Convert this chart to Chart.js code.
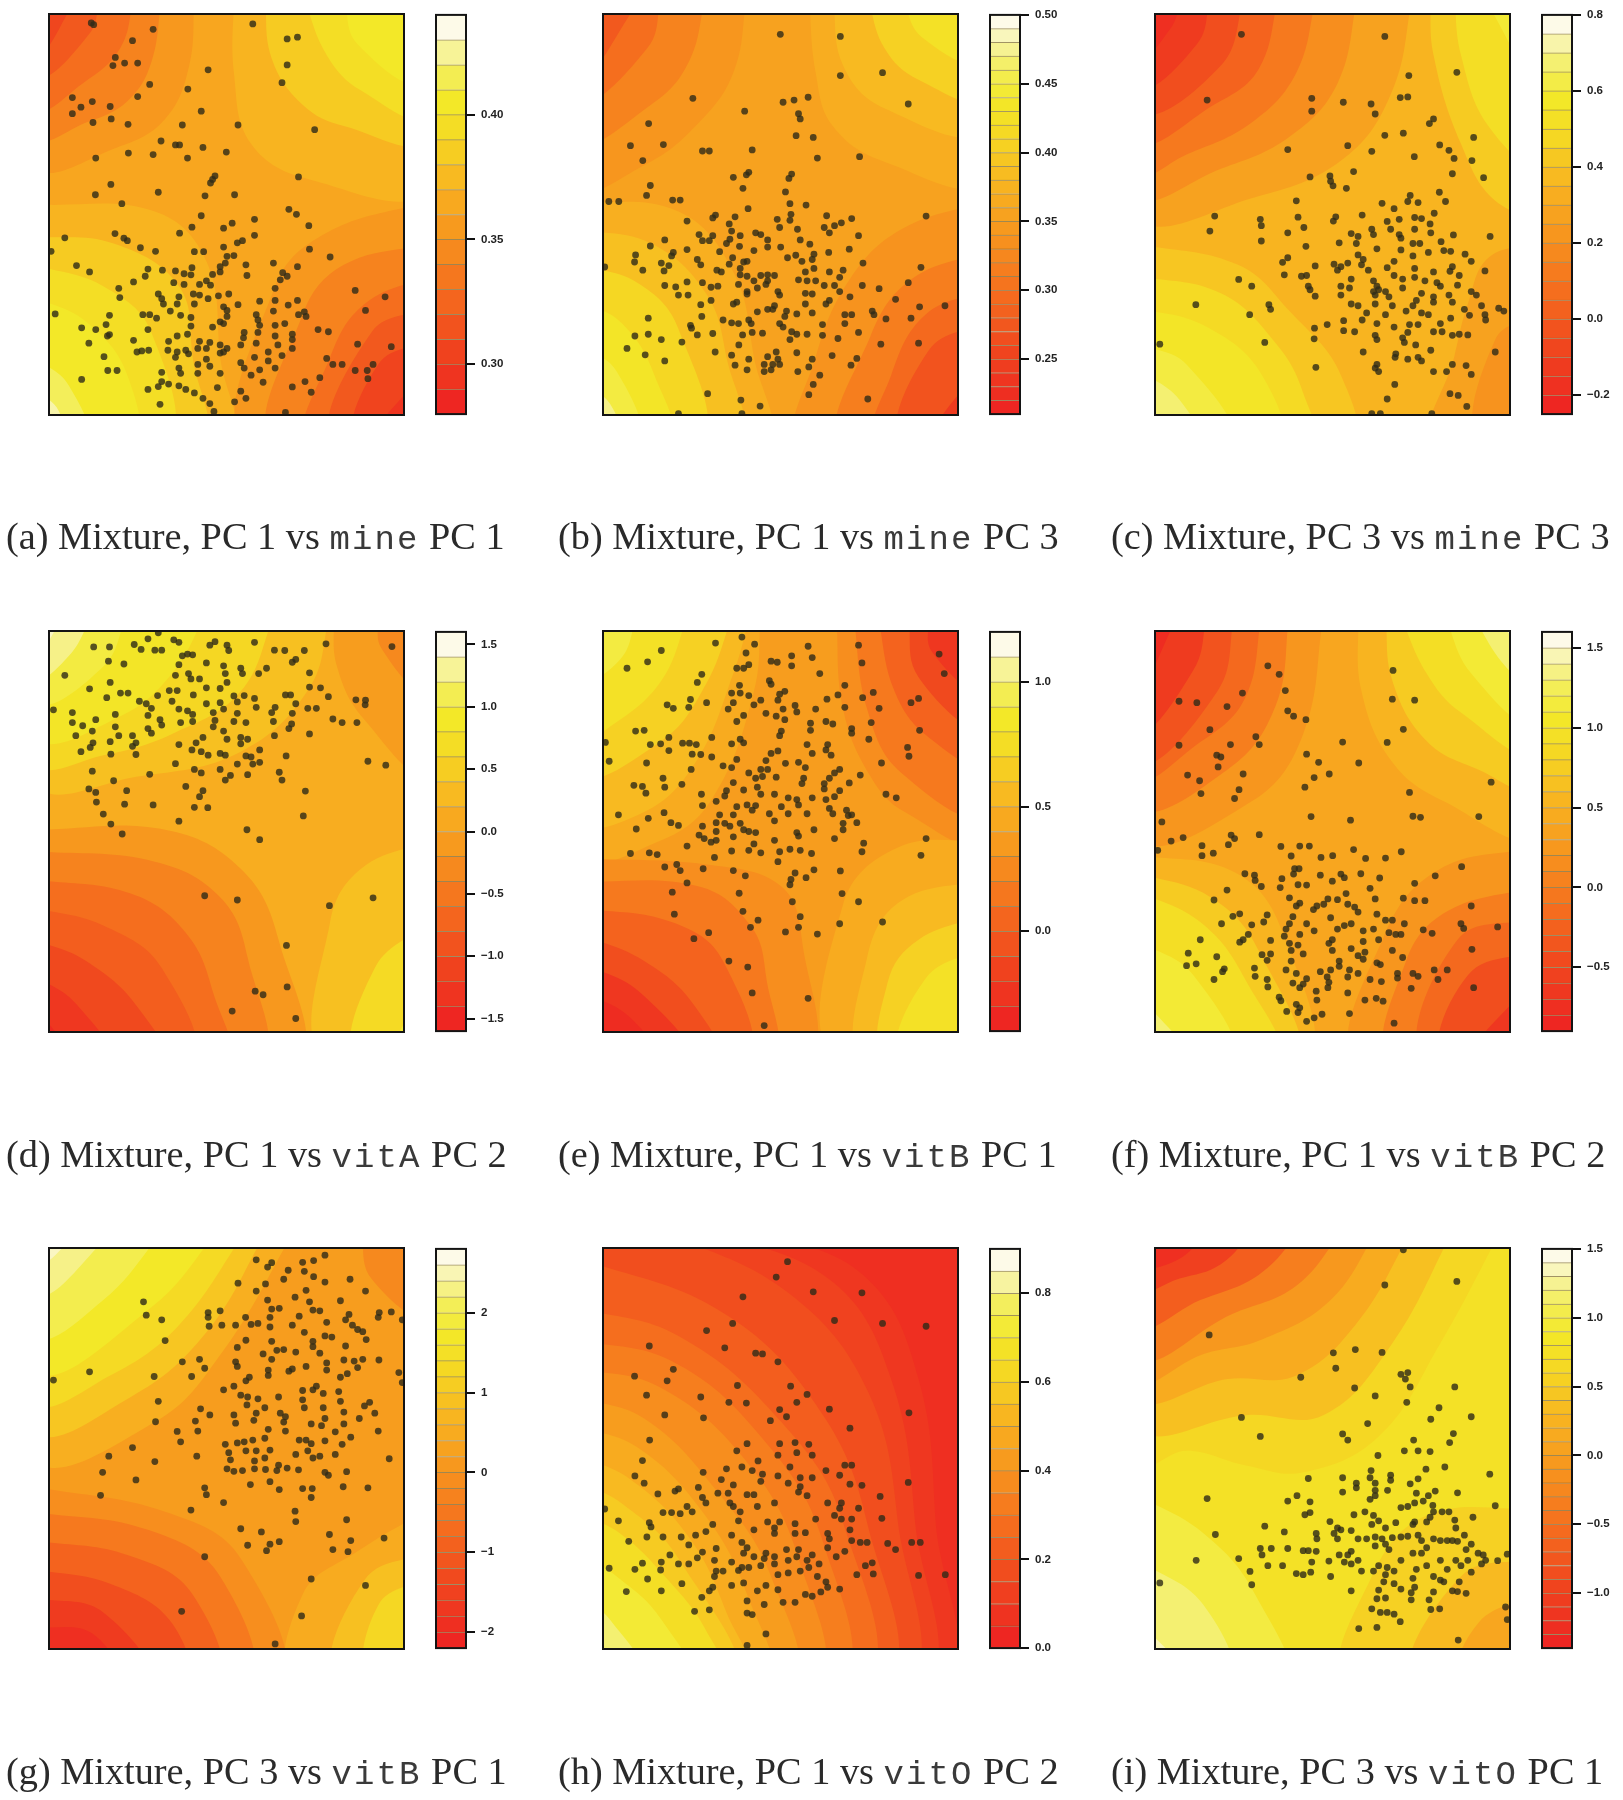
<!DOCTYPE html>
<html>
<head>
<meta charset="utf-8">
<script src="https://cdn.jsdelivr.net/npm/chart.js@4"></script>
<style>
body { margin: 0; background: #fff; width: 1623px; height: 1800px; position: relative; overflow: hidden; }
canvas { position: absolute; filter: blur(0.6px); }
.cap { position: absolute; white-space: nowrap; font: 38.3px "Liberation Serif", serif; color: #2a2a2a; line-height: 40px; filter: blur(0.4px); }
.cap tt { font: 34px "Liberation Mono", monospace; letter-spacing: 2.1px; color: #3a3a3a; }
</style>
</head>
<body>
<script>
//============================== DATA ===========================
// contours: [level %, x,y, x,y, ...], last pair is the far corner
const contoursA = [
 [52, 0,-100, 1400,-100, 1400,1300, 0,1300],
 [58, 680,-20, 680,200, 730,400, 900,500, 1250,525, 1400,-100],
 [66, 770,-20, 790,160, 880,290, 1000,350, 1250,385, 1400,-100],
 [74, 880,-20, 950,150, 1050,250, 1250,320, 1400,-100],
 [80, 1000,-20, 1040,120, 1250,230, 1400,-100],
 [86, 1130,-20, 1250,100, 1400,-100],
 [46, 565,-20, 550,180, 480,330, 340,410, 100,460, 0,-100],
 [38, 470,-20, 440,170, 370,280, 250,340, 100,380, 0,-100],
 [30, 390,-20, 350,130, 240,230, 100,300, 0,-100],
 [22, 290,-20, 260,90, 100,210, 0,-100],
 [15, 230,-20, 100,150, 0,-100],
 [8, 170,-20, 100,80, 0,-100],
 [58, 100,570, 450,590, 600,730, 640,1000, 660,1250, 0,1300],
 [66, 100,660, 330,680, 520,800, 560,1000, 580,1250, 0,1300],
 [74, 100,740, 300,800, 440,930, 480,1250, 0,1300],
 [80, 100,830, 250,900, 370,1050, 380,1250, 0,1300],
 [88, 100,1000, 200,1080, 250,1250, 0,1300],
 [95, 100,1090, 170,1150, 180,1250, 0,1300],
 [46, 1250,560, 950,650, 800,800, 720,1250, 1400,1300],
 [38, 1250,680, 1000,740, 880,880, 800,1250, 1400,1300],
 [30, 1250,770, 1060,850, 960,1000, 900,1250, 1400,1300],
 [22, 1250,860, 1080,930, 970,1250, 1400,1300],
 [14, 1250,950, 1100,1020, 1040,1250, 1400,1300],
 [7, 1250,1020, 1090,1250, 1400,1300],
 [2, 1250,1090, 1130,1250, 1400,1300]
];
const contoursB = [
 [50, 0,-100, 1400,-100, 1400,1300, 0,1300],
 [55, 780,-20, 800,200, 850,350, 1000,450, 1300,500, 1400,-100],
 [60, 850,-20, 880,180, 1000,300, 1300,360, 1400,-100],
 [68, 950,-20, 1000,130, 1100,220, 1300,270, 1400,-100],
 [76, 1050,-20, 1110,100, 1300,170, 1400,-100],
 [82, 1150,-20, 1300,80, 1400,-100],
 [88, 1190,-20, 1300,50, 1400,-100],
 [45, 600,-20, 560,200, 450,350, 300,460, 100,520, 0,-100],
 [38, 480,-20, 430,170, 320,290, 100,390, 0,-100],
 [30, 350,-20, 310,130, 100,280, 0,-100],
 [22, 300,-20, 100,220, 0,-100],
 [14, 220,-20, 100,120, 0,-100],
 [56, 100,560, 400,590, 560,760, 620,1000, 650,1250, 0,1300],
 [62, 100,640, 320,680, 480,820, 540,1000, 570,1250, 0,1300],
 [70, 100,740, 280,790, 400,920, 460,1250, 0,1300],
 [78, 100,840, 230,900, 330,1050, 370,1250, 0,1300],
 [84, 100,960, 220,1040, 280,1250, 0,1300],
 [92, 100,1070, 200,1130, 220,1250, 0,1300],
 [98, 100,1120, 210,1250, 0,1300],
 [44, 1300,560, 1050,640, 900,780, 800,1000, 760,1250, 1400,1300],
 [36, 1300,700, 1080,780, 960,940, 880,1250, 1400,1300],
 [28, 1300,810, 1120,880, 1020,1050, 980,1250, 1400,1300],
 [20, 1300,900, 1130,980, 1050,1250, 1400,1300],
 [10, 1300,1000, 1140,1250, 1400,1300],
 [4, 1300,1080, 1180,1250, 1400,1300]
];
const contoursC = [
 [58, 0,-100, 1400,-100, 1400,1300, 0,1300],
 [50, 960,-20, 900,250, 760,440, 500,550, 150,600, 0,-100],
 [42, 800,-20, 740,230, 600,380, 400,470, 150,540, 0,-100],
 [34, 680,-20, 620,200, 490,340, 300,430, 150,480, 0,-100],
 [26, 570,-20, 510,190, 380,290, 150,390, 0,-100],
 [18, 470,-20, 400,180, 150,310, 0,-100],
 [10, 370,-20, 330,120, 150,240, 0,-100],
 [4, 290,-20, 250,80, 150,160, 0,-100],
 [66, 1010,-20, 1020,150, 1100,400, 1200,560, 1320,580, 1400,-100],
 [74, 1080,-20, 1100,150, 1180,350, 1320,450, 1400,-100],
 [82, 1160,-20, 1320,200, 1400,-100],
 [90, 1225,-20, 1320,60, 1400,-100],
 [64, 150,680, 450,740, 600,870, 750,1050, 770,1250, 0,1300],
 [72, 150,770, 400,820, 560,960, 640,1100, 660,1250, 0,1300],
 [78, 150,860, 350,910, 520,1050, 560,1250, 0,1300],
 [84, 150,960, 300,1020, 430,1250, 0,1300],
 [90, 150,1030, 280,1120, 330,1250, 0,1300],
 [96, 150,1100, 270,1250, 0,1300],
 [50, 1320,680, 1180,720, 1120,850, 1080,1000, 1020,1250, 1400,1300],
 [44, 1320,880, 1200,950, 1150,1250, 1400,1300],
 [36, 1320,1030, 1215,1250, 1400,1300]
];
const contoursD = [
 [55, 0,-100, 1400,-100, 1400,1300, 0,1300],
 [62, 960,-20, 900,190, 700,370, 400,440, 100,460, 0,-100],
 [70, 800,-20, 700,200, 500,320, 300,380, 100,400, 0,-100],
 [78, 600,-20, 500,150, 350,270, 100,330, 0,-100],
 [84, 370,-20, 300,130, 100,230, 0,-100],
 [92, 270,-20, 200,100, 100,160, 0,-100],
 [97, 190,-20, 100,90, 0,-100],
 [48, 970,-20, 980,130, 1060,280, 1250,430, 1400,-100],
 [40, 1100,-20, 1110,80, 1250,200, 1400,-100],
 [46, 100,590, 480,590, 700,700, 810,900, 850,1250, 0,1300],
 [38, 100,650, 450,680, 640,780, 720,950, 745,1250, 0,1300],
 [30, 100,730, 380,770, 540,880, 620,1050, 650,1250, 0,1300],
 [24, 100,810, 300,860, 470,980, 550,1250, 0,1300],
 [16, 100,900, 250,960, 400,1090, 470,1250, 0,1300],
 [8, 100,1000, 220,1080, 320,1250, 0,1300],
 [2, 100,1080, 200,1250, 0,1300],
 [62, 1250,620, 1050,700, 960,850, 945,1250, 1400,1300],
 [72, 1250,850, 1090,980, 1040,1250, 1400,1300],
 [82, 1250,1000, 1150,1250, 1400,1300]
];
const contoursE = [
 [48, 0,-100, 1400,-100, 1400,1300, 0,1300],
 [54, 640,-20, 620,200, 500,500, 350,620, 100,660, 0,-100],
 [60, 610,-20, 560,150, 450,400, 300,540, 100,560, 0,-100],
 [68, 560,-20, 480,180, 350,340, 100,430, 0,-100],
 [76, 430,-20, 350,170, 200,300, 100,340, 0,-100],
 [84, 280,-20, 230,110, 100,170, 0,-100],
 [92, 220,-20, 100,90, 0,-100],
 [42, 860,-20, 880,250, 960,440, 1060,540, 1300,620, 1400,-100],
 [34, 910,-20, 950,250, 1050,430, 1300,540, 1400,-100],
 [26, 980,-20, 1030,200, 1130,330, 1300,400, 1400,-100],
 [16, 1070,-20, 1100,160, 1300,300, 1400,-100],
 [8, 1130,-20, 1140,90, 1300,200, 1400,-100],
 [42, 100,670, 500,690, 700,750, 760,900, 760,1250, 0,1300],
 [34, 100,735, 460,750, 610,860, 655,1000, 660,1250, 0,1300],
 [26, 100,810, 380,850, 530,960, 590,1250, 0,1300],
 [18, 100,880, 300,960, 450,1090, 510,1250, 0,1300],
 [8, 100,960, 290,1050, 430,1250, 0,1300],
 [3, 100,1040, 260,1120, 330,1250, 0,1300],
 [54, 1300,620, 1040,640, 880,800, 860,1250, 1400,1300],
 [60, 1300,730, 1050,790, 950,950, 945,1250, 1400,1300],
 [68, 1300,830, 1100,900, 1010,1020, 1010,1250, 1400,1300],
 [76, 1300,920, 1120,1010, 1050,1250, 1400,1300],
 [84, 1300,1060, 1170,1250, 1400,1300]
];
const contoursF = [
 [52, 0,-100, 1400,-100, 1400,1300, 0,1300],
 [45, 700,-20, 640,320, 490,510, 150,610, 0,-100],
 [36, 600,-20, 560,240, 420,420, 150,520, 0,-100],
 [28, 520,-20, 470,220, 330,350, 150,440, 0,-100],
 [20, 440,-20, 390,200, 150,400, 0,-100],
 [10, 360,-20, 320,140, 150,310, 0,-100],
 [3, 280,-20, 150,180, 0,-100],
 [58, 800,-20, 810,200, 900,400, 1050,510, 1320,600, 1400,-100],
 [66, 880,-20, 900,170, 1000,340, 1150,420, 1320,470, 1400,-100],
 [74, 920,-20, 1000,150, 1100,260, 1320,370, 1400,-100],
 [82, 1050,-20, 1130,150, 1320,290, 1400,-100],
 [90, 1130,-20, 1230,130, 1320,190, 1400,-100],
 [96, 1190,-20, 1320,100, 1400,-100],
 [58, 150,660, 440,710, 580,880, 640,1250, 0,1300],
 [66, 150,710, 370,780, 510,930, 610,1250, 0,1300],
 [74, 150,760, 340,850, 470,1010, 560,1250, 0,1300],
 [82, 150,900, 320,1000, 430,1250, 0,1300],
 [90, 150,1040, 300,1250, 0,1300],
 [45, 1320,640, 1040,700, 880,880, 800,1250, 1400,1300],
 [36, 1320,750, 1060,820, 940,960, 900,1250, 1400,1300],
 [28, 1320,840, 1090,900, 990,1250, 1400,1300],
 [18, 1320,930, 1120,1000, 1050,1250, 1400,1300],
 [8, 1320,1000, 1130,1250, 1400,1300],
 [3, 1320,1080, 1180,1250, 1400,1300]
];
const contoursG = [
 [48, 0,-100, 1400,-100, 1400,1300, 0,1300],
 [56, 860,-20, 650,320, 450,520, 100,620, 0,-100],
 [64, 780,-20, 600,270, 380,450, 100,540, 0,-100],
 [72, 720,-20, 520,250, 320,390, 100,460, 0,-100],
 [80, 640,-20, 440,200, 100,380, 0,-100],
 [86, 480,-20, 300,180, 100,280, 0,-100],
 [92, 340,-20, 100,170, 0,-100],
 [97, 240,-20, 100,80, 0,-100],
 [40, 1050,-20, 1080,120, 1250,220, 1400,-100],
 [34, 1130,-20, 1250,80, 1400,-100],
 [42, 100,700, 480,770, 700,900, 800,1250, 0,1300],
 [34, 100,770, 430,820, 640,950, 710,1250, 0,1300],
 [26, 100,850, 370,890, 560,1000, 620,1250, 0,1300],
 [18, 100,930, 320,970, 500,1080, 530,1250, 0,1300],
 [10, 100,1010, 300,1050, 430,1250, 0,1300],
 [4, 100,1090, 270,1110, 340,1250, 0,1300],
 [54, 1250,760, 1040,880, 880,1000, 860,1250, 1400,1300],
 [62, 1250,880, 1060,960, 980,1250, 1400,1300],
 [70, 1250,950, 1100,1030, 1080,1250, 1400,1300],
 [76, 1250,1040, 1160,1250, 1400,1300]
];
const contoursH = [
 [4, 0,-100, 1400,-100, 1400,1300, 0,1300],
 [8, 640,-20, 950,120, 1100,400, 1150,800, 1160,1250, 0,1300, 0,-100],
 [13, 480,-20, 850,130, 1020,400, 1090,800, 1100,1250, 0,1300, 0,-100],
 [18, 340,-20, 720,160, 950,430, 1040,800, 1050,1250, 0,1300, 0,-100],
 [24, 100,60, 520,210, 800,470, 950,800, 990,1250, 0,1300],
 [30, 100,200, 400,280, 700,520, 880,800, 930,1250, 0,1300],
 [36, 100,290, 380,350, 640,560, 820,850, 860,1250, 0,1300],
 [42, 100,370, 340,420, 590,620, 750,900, 790,1250, 0,1300],
 [48, 100,450, 300,510, 510,710, 670,950, 720,1250, 0,1300],
 [54, 100,530, 280,590, 470,770, 600,1000, 650,1250, 0,1300],
 [60, 100,610, 260,680, 430,840, 540,1050, 600,1250, 0,1300],
 [66, 100,680, 240,750, 400,900, 560,1250, 0,1300],
 [74, 100,770, 230,830, 370,960, 480,1100, 530,1250, 0,1300],
 [82, 100,880, 220,950, 350,1070, 430,1250, 0,1300],
 [90, 100,1000, 200,1070, 300,1250, 0,1300],
 [96, 100,1090, 230,1250, 0,1300]
];
const contoursI = [
 [76, 0,-100, 1400,-100, 1400,1300, 0,1300],
 [70, 1220,-20, 1040,300, 860,560, 640,660, 470,640, 300,600, 150,640, 0,-100],
 [62, 1080,-20, 900,300, 700,500, 480,500, 150,530, 0,-100],
 [54, 960,-20, 800,240, 620,390, 420,400, 150,450, 0,-100],
 [46, 860,-20, 720,180, 520,290, 350,330, 150,400, 0,-100],
 [36, 760,-20, 620,140, 430,220, 150,340, 0,-100],
 [24, 640,-20, 510,110, 340,180, 150,250, 0,-100],
 [12, 500,-20, 400,80, 280,120, 150,150, 0,-100],
 [4, 370,-20, 270,70, 150,80, 0,-100],
 [68, 1320,760, 1000,780, 840,950, 770,1250, 1400,1300],
 [60, 1320,900, 1100,950, 960,1250, 1400,1300],
 [52, 1320,1000, 1150,1080, 1100,1250, 1400,1300],
 [44, 1320,1090, 1190,1250, 1400,1300],
 [84, 150,720, 350,830, 500,1000, 580,1250, 0,1300],
 [90, 150,900, 350,1030, 420,1250, 0,1300],
 [96, 150,1060, 300,1250, 0,1300]
];

// scatter marks as x,y pairs in the same reading units
const pointsA = [265,60,272,65,445,78,735,63,835,105,865,100,385,110,335,157,328,180,362,173,400,173,835,178,605,192,820,228,435,233,546,246,400,267,210,270,268,281,235,297,320,295,210,315,323,330,585,308,270,340,372,345,530,347,692,347,915,360,468,392,510,403,522,403,590,410,658,423,373,426,445,430,278,440,545,440,625,490,618,500,612,510,868,493,322,514,460,536,277,543,596,546,682,543,354,568,840,584,862,598,585,602,740,612,675,623,650,637,558,634,898,630,334,652,522,651,360,665,370,672,188,664,740,657,705,672,690,678,650,690,408,692,900,696,452,702,148,702,565,703,592,703,680,714,660,716,960,718,222,742,795,735,715,740,865,745,655,735,640,745,718,770,260,760,430,752,472,755,510,757,558,748,535,765,555,768,640,760,618,767,822,762,835,772,815,782,600,785,422,772,388,788,505,790,535,795,580,795,612,797,345,806,800,806,1033,812,1120,830,348,832,460,822,470,835,475,850,520,830,562,822,580,825,605,835,635,827,665,822,515,850,565,850,755,842,692,852,650,858,800,840,838,853,865,840,795,870,660,868,1063,868,885,872,868,880,890,885,160,878,318,882,415,880,435,880,455,890,495,870,525,882,555,888,660,885,640,900,745,880,750,895,755,910,800,910,828,905,925,922,955,928,237,917,278,922,308,908,430,922,555,912,618,915,650,905,710,930,750,930,800,940,850,935,312,940,318,936,515,940,545,935,708,945,745,960,850,950,388,952,490,955,258,960,580,955,610,958,640,965,700,965,808,965,1040,963,1138,970,398,985,412,982,432,980,488,980,515,985,540,980,575,975,650,985,640,988,660,975,600,975,780,985,850,975,820,995,302,998,510,1000,548,990,600,1005,950,1003,700,1015,740,1000,780,1010,968,1020,995,1020,1085,1020,520,1030,575,1020,610,1025,710,1030,755,1035,800,1030,1033,1037,1068,1037,313,1037,340,1037,525,1045,575,1045,640,1045,470,1042,730,1050,765,1070,930,1057,1070,1060,237,1062,470,1068,490,1075,460,1082,887,1068,430,1090,520,1080,540,1090,632,1085,850,1083,565,1100,700,1095,905,1098,590,1115,715,1115,610,1130,682,1125,465,1132,622,1152,830,1155];
const pointsB = [697,92,872,98,995,200,872,208,442,272,705,283,737,277,778,269,1070,288,593,308,750,315,755,330,313,343,743,377,793,382,260,405,356,402,470,420,490,420,615,417,805,440,928,436,296,447,730,485,722,497,605,480,598,487,560,494,588,525,318,517,712,535,307,545,197,562,226,562,383,558,405,558,725,568,772,572,603,582,508,600,500,608,565,605,728,598,725,615,832,602,1122,603,425,617,688,612,905,610,875,622,855,630,695,635,825,635,840,650,548,625,555,645,747,640,625,650,640,655,460,655,500,658,470,672,490,672,360,670,580,658,550,668,755,670,925,658,660,670,540,680,318,687,425,697,620,700,578,688,698,690,783,682,660,690,898,696,520,703,385,705,380,715,838,705,275,712,272,732,455,725,558,720,795,710,790,725,742,713,718,720,600,730,590,732,465,740,548,738,760,730,350,735,372,742,358,757,938,735,185,746,296,755,512,755,525,760,580,750,1107,747,795,750,880,755,770,760,840,760,580,768,600,772,640,770,660,768,680,770,870,775,750,782,775,785,800,785,425,788,470,790,620,785,660,785,575,795,655,795,1070,790,360,798,392,802,495,803,515,800,825,798,855,798,936,798,985,807,400,825,428,825,600,815,630,805,690,815,695,825,770,820,790,822,870,815,900,830,1033,837,495,840,570,845,600,822,840,840,830,850,465,852,560,850,680,855,675,865,770,850,1103,858,1177,855,660,865,630,872,715,870,745,878,965,870,970,880,468,885,312,890,530,895,605,895,710,885,790,875,885,880,905,880,1005,892,1078,890,555,903,575,905,612,905,885,905,820,908,435,910,695,905,705,915,438,918,730,928,615,930,645,932,745,935,775,935,820,938,925,930,455,937,500,933,587,937,312,935,273,940,350,950,410,957,725,950,865,947,576,965,250,975,990,963,1100,960,507,985,745,987,555,994,848,995,303,993,685,985,660,998,690,1005,605,1005,790,1005,920,1003,360,1010,650,1020,675,1020,695,1020,565,1022,780,1027,903,1022,600,1035,650,1040,670,1035,748,1040,812,1050,793,1076,485,1102,780,1105,582,1120,952,1117,638,1137,585,1158,400,1158];
const pointsC = [460,92,878,98,948,208,1088,199,360,277,665,272,665,308,757,283,838,288,850,316,923,270,945,268,1020,330,1008,343,878,376,932,370,1137,382,595,416,770,405,1038,403,1065,418,840,421,1080,441,964,436,1132,447,660,493,718,490,720,505,727,518,787,478,766,525,1075,484,1166,495,1037,536,952,545,945,562,975,565,1055,562,620,560,870,567,905,582,382,603,625,606,515,612,518,630,812,600,735,605,728,617,1022,595,965,607,985,610,920,612,885,618,642,635,368,645,595,650,840,640,845,655,780,652,800,660,895,640,1010,625,1012,650,965,640,920,655,518,673,1078,656,1185,660,648,688,745,678,795,680,925,665,1042,675,960,680,980,680,855,695,925,698,1050,700,1070,702,800,712,815,725,960,715,1005,705,1112,710,595,720,580,733,730,738,750,745,770,735,675,743,810,740,905,730,965,750,1130,730,1075,745,740,755,885,748,1170,757,1020,760,1068,758,830,755,585,768,635,772,650,770,905,770,1095,770,965,775,452,781,490,800,655,800,780,780,845,785,930,780,995,785,1030,790,1040,800,1090,797,855,800,860,810,845,815,850,825,880,815,750,800,775,805,930,805,660,810,985,820,1130,815,1145,825,675,828,750,825,890,830,1020,830,1065,825,970,840,850,850,780,850,800,855,900,855,1075,845,327,852,540,852,545,865,960,855,1020,845,1160,855,985,875,1005,880,825,875,880,880,940,870,1110,865,1125,882,1210,862,1225,870,484,880,812,895,1070,890,1170,880,1172,895,758,897,710,908,855,905,950,908,975,908,1040,905,905,915,673,918,758,925,790,928,1020,928,1045,928,945,930,1075,938,1095,935,1120,937,850,938,855,950,672,948,930,945,935,958,528,958,968,965,222,963,1200,985,815,985,1012,980,910,990,908,1000,975,1000,985,1010,945,1005,855,1020,1075,1020,1115,1023,677,1028,850,1030,860,1040,1020,1040,1058,1040,1130,1048,907,1076,1068,1102,1092,1107,885,1117,1117,1138,840,1158,865,1158,1015,1158];
const pointsD = [460,35,430,52,505,55,520,62,272,75,318,75,390,68,410,82,450,84,470,84,625,60,610,70,660,70,665,85,740,62,798,84,828,85,885,85,948,66,1140,74,545,95,560,97,530,100,520,125,315,115,360,123,600,120,650,128,700,135,775,135,860,110,850,118,188,155,510,155,548,150,555,165,580,165,655,150,752,150,900,148,705,150,320,175,660,175,600,190,260,193,900,188,932,190,492,198,515,198,350,205,372,205,458,212,310,218,562,210,640,192,845,210,955,215,680,213,710,212,740,220,1035,224,1063,225,1062,238,405,228,425,235,500,228,600,235,640,232,690,230,830,210,860,235,155,252,210,260,440,248,520,250,545,255,650,250,745,245,800,245,895,248,920,248,335,265,430,268,560,265,620,260,690,262,790,260,850,262,968,278,278,280,210,288,240,297,465,280,470,295,525,288,560,285,625,282,680,285,715,288,795,285,848,292,995,288,1038,288,335,300,430,305,440,318,620,300,650,312,840,305,268,312,220,325,345,325,385,325,590,330,700,330,720,335,900,320,798,325,320,342,270,345,395,345,660,335,700,348,262,358,520,350,570,345,385,355,235,370,395,378,558,365,585,370,605,380,640,375,655,380,755,365,322,377,715,382,730,385,832,382,1070,397,510,404,690,405,735,405,755,400,1122,408,640,420,268,425,565,420,585,430,812,428,720,435,435,434,670,437,655,450,820,450,330,452,540,468,258,475,278,485,368,480,590,480,888,481,580,497,280,512,362,518,445,520,565,527,604,528,300,546,882,551,520,566,322,574,718,590,355,602,755,618,595,776,690,788,1085,782,958,804,833,916,835,1033,742,1045,765,1055,675,1101,860,1122];
const pointsE = [585,47,508,64,622,67,350,85,778,73,925,70,597,92,730,100,790,105,310,117,670,115,688,118,935,120,1160,95,250,135,605,125,570,135,590,135,730,128,1175,150,468,152,812,150,455,175,665,170,670,180,885,183,578,183,555,205,580,205,605,212,710,200,695,208,968,203,1100,220,865,210,937,218,435,223,833,222,690,225,640,225,620,238,482,232,1078,232,367,238,385,248,430,245,560,232,545,250,740,240,885,245,985,248,705,250,745,258,800,250,590,268,655,262,685,270,570,285,830,285,850,292,785,290,962,288,710,280,905,305,905,318,275,312,300,310,785,310,700,312,1103,310,955,335,695,325,497,330,580,335,372,330,318,350,348,348,412,346,432,346,452,350,555,348,590,345,187,344,775,350,835,350,1068,358,372,367,830,365,845,380,690,368,670,375,440,377,465,378,497,385,790,375,655,395,570,392,1072,383,198,397,307,402,712,403,750,400,992,402,530,410,555,415,770,415,640,420,660,420,437,420,870,420,855,430,605,430,645,440,625,445,930,436,765,445,685,442,355,445,840,445,825,460,560,457,898,458,410,462,270,465,295,468,360,470,760,460,630,470,540,480,590,478,825,475,870,480,305,487,467,490,680,490,1005,490,1035,500,640,490,535,495,855,497,720,500,745,505,790,500,830,505,510,510,470,522,570,525,600,520,625,522,700,525,750,520,840,530,890,535,895,550,358,542,225,548,775,545,665,545,615,535,720,545,312,558,560,548,520,548,850,545,680,565,905,548,378,570,400,578,510,570,535,572,550,580,580,572,920,570,880,572,277,588,470,580,795,590,880,590,605,595,625,598,510,595,745,598,460,605,560,610,750,608,475,615,495,625,510,620,680,620,855,615,1122,615,590,590,425,636,620,630,940,628,725,645,755,648,605,648,555,650,640,655,695,652,260,657,315,655,338,660,788,657,935,652,1107,662,505,668,690,680,395,688,360,695,472,700,405,705,560,705,795,703,872,706,740,712,595,720,772,725,728,730,425,740,382,766,577,769,725,745,877,770,732,793,925,793,388,828,588,820,755,835,632,845,610,865,750,865,995,850,870,855,712,878,488,880,805,884,445,897,547,960,602,977,615,1050,778,1065,650,1142];
const pointsF = [537,128,570,152,902,141,588,198,463,205,278,228,330,232,418,243,900,222,965,225,595,255,612,270,648,280,368,308,932,307,502,328,512,350,278,352,428,350,755,343,885,344,388,380,400,385,650,377,392,413,685,400,802,402,465,433,716,433,303,436,672,443,338,452,1188,456,645,470,453,477,342,488,950,485,440,502,663,553,960,552,982,555,1152,553,778,563,228,568,430,605,440,615,512,604,290,612,255,622,345,635,422,632,575,637,630,636,658,636,378,656,345,663,216,648,787,646,926,652,605,664,692,668,726,663,822,671,880,670,1102,694,615,700,628,700,612,715,470,714,498,718,500,733,690,718,750,715,760,725,808,714,863,726,1025,720,578,728,725,735,625,745,650,746,965,741,518,750,573,753,835,755,418,760,765,770,600,782,850,785,932,783,965,790,995,790,380,788,740,787,712,785,630,797,620,805,700,800,680,805,770,800,790,808,800,822,670,815,1130,805,455,827,435,834,535,830,610,835,720,838,855,828,525,850,600,855,880,845,900,845,590,870,490,858,402,855,650,855,1100,855,1108,868,1207,864,780,855,760,860,740,870,672,875,630,885,815,875,845,870,935,855,990,872,1016,882,480,885,890,880,910,885,925,885,585,890,465,900,455,907,340,900,545,902,725,900,815,905,860,900,600,910,715,910,625,915,780,925,900,930,820,935,1132,927,305,938,388,948,520,942,545,940,640,940,605,930,725,930,800,945,930,950,535,958,605,960,745,960,855,965,815,955,300,973,328,968,410,982,498,980,590,985,720,985,1022,985,1060,985,775,985,745,975,865,970,405,990,620,995,690,990,800,995,915,995,960,995,975,1003,500,1003,650,1010,710,1005,770,1005,380,1012,835,1012,868,1018,1033,1012,535,1012,610,1022,640,1025,715,1020,915,1008,537,1033,630,1035,678,1045,712,1035,1137,1035,955,1037,770,1050,570,1062,575,1072,680,1070,820,1070,853,1065,873,1073,620,1082,630,1092,592,1102,695,1110,625,1105,672,1120,775,1108,650,1130,905,1135];
const pointsG = [945,55,745,68,790,76,778,88,880,75,912,70,885,100,912,115,838,97,825,122,692,133,772,135,945,130,1018,122,745,155,890,153,1063,155,858,172,417,185,778,180,990,182,900,185,790,205,812,203,910,208,930,210,605,215,640,210,1103,215,1138,213,425,222,605,228,714,228,785,228,870,225,1015,220,1100,228,470,235,1170,235,685,250,730,248,750,245,850,250,950,242,645,250,608,253,785,255,1005,235,1040,262,1055,268,1025,250,885,270,945,280,965,283,480,293,715,292,790,295,910,295,1065,290,690,312,805,320,825,318,910,310,1005,308,765,330,860,325,930,328,530,352,580,345,685,352,790,345,1102,347,950,355,1000,347,1030,350,1055,345,595,370,690,365,850,372,840,378,890,365,950,375,1040,368,780,375,260,380,1160,382,448,393,557,393,780,390,725,395,715,405,990,395,1010,385,155,403,1170,410,920,420,910,430,650,430,680,420,880,432,700,445,985,435,720,450,750,455,810,450,460,462,880,458,940,440,990,462,1075,465,1060,475,718,472,770,480,815,495,830,505,885,480,1090,495,583,483,610,500,745,495,680,500,940,480,1000,492,568,517,452,519,685,523,738,515,825,520,945,510,935,530,1045,510,1000,525,515,546,575,545,780,540,830,545,905,525,975,547,1100,545,770,565,870,570,890,570,1020,562,525,575,710,575,735,570,655,582,690,578,905,580,945,572,995,582,385,591,715,600,785,598,860,610,895,600,665,605,745,600,572,615,316,615,770,620,910,620,930,615,975,610,450,630,670,625,1132,622,740,628,660,650,680,657,705,655,740,650,772,652,805,655,835,648,868,653,810,640,298,660,945,660,1008,658,955,668,395,681,785,686,728,694,998,700,595,703,1070,703,880,705,908,705,812,708,600,722,292,724,905,730,650,744,555,765,858,768,860,797,1008,792,700,817,760,826,958,833,1117,843,1020,850,812,853,720,863,785,860,775,878,968,875,1012,881,595,895,905,957,1063,975,528,1047,877,1060,800,1138];
const pointsH = [718,73,685,116,793,157,935,160,588,171,855,237,558,245,995,245,1122,253,482,265,315,308,535,313,625,328,645,330,690,352,385,373,272,392,367,405,572,418,727,420,775,443,307,445,465,450,547,465,598,467,745,465,840,484,1072,494,360,500,473,508,695,485,715,505,668,516,900,537,316,570,600,580,695,580,740,577,780,582,570,600,745,605,690,612,790,612,295,627,632,628,885,640,905,640,585,645,540,650,725,645,830,655,472,660,615,655,273,670,645,665,690,670,870,668,525,680,640,685,755,675,790,675,720,690,1070,688,300,690,560,695,900,693,935,696,755,700,458,702,390,712,400,706,515,718,545,718,600,722,620,722,750,715,775,725,340,720,470,730,988,727,480,745,550,745,680,745,835,745,875,745,630,755,560,755,425,755,440,770,185,762,355,772,380,772,405,775,580,770,925,760,870,760,855,780,800,790,875,790,905,790,993,788,225,795,660,798,695,798,740,803,315,800,500,805,575,795,320,812,680,815,620,820,900,820,835,830,770,828,480,825,450,835,555,835,680,830,740,830,408,840,355,840,308,840,840,845,585,855,905,850,930,855,950,855,1010,858,1080,855,1105,855,255,852,430,862,600,870,715,875,750,875,1033,875,835,870,510,872,470,882,655,885,620,895,650,900,680,895,590,885,790,890,885,880,860,895,375,890,455,898,745,895,775,905,505,905,350,910,295,913,400,915,430,915,555,910,585,925,605,925,640,920,680,915,720,905,945,920,965,912,198,927,273,930,348,932,575,933,690,945,720,940,755,935,780,925,810,915,920,945,968,943,510,935,530,935,505,950,1100,947,1178,945,310,957,805,950,830,965,410,970,555,975,590,968,655,975,500,980,490,990,835,980,870,985,248,992,350,990,630,990,690,987,815,993,770,1000,790,1005,468,1008,600,1018,650,1028,705,1022,740,1022,490,1043,447,1047,600,1052,615,1056,655,1110,600,1142];
const pointsI = [932,40,878,138,1088,128,366,277,728,327,792,318,870,326,735,370,925,387,945,382,938,400,633,395,952,422,1082,422,790,425,850,447,942,465,1036,480,460,507,1130,505,1012,512,828,524,515,560,755,553,770,570,1078,552,962,570,1067,577,935,600,975,600,1010,602,858,613,1053,645,998,651,838,655,895,668,1184,665,835,675,655,677,755,675,975,678,952,692,795,690,850,690,895,682,795,703,850,710,886,710,1025,712,755,715,970,718,1090,717,622,725,1005,725,850,725,595,740,660,742,835,735,360,733,990,740,965,745,945,755,925,758,1200,753,1018,752,660,772,645,778,820,770,788,778,1020,770,1045,770,1065,770,845,780,1135,785,1010,785,965,798,528,810,718,797,860,795,910,800,1082,793,1000,798,585,826,740,815,780,822,840,805,960,805,1085,815,678,830,730,830,750,820,880,815,1110,835,384,833,740,845,680,845,800,845,825,845,850,840,870,845,900,842,925,840,945,838,975,835,1020,845,1060,850,1075,850,1090,852,985,850,1130,860,850,865,880,860,1040,850,515,872,547,872,595,872,640,878,655,878,780,880,890,875,1000,870,1115,875,960,885,520,890,678,880,745,890,770,890,985,885,1150,885,1165,890,1172,905,1160,915,328,905,452,900,715,907,760,910,800,905,925,905,1040,905,1085,905,1207,906,1120,905,1235,888,537,920,580,920,665,910,780,915,860,920,885,925,1000,920,970,930,1100,920,810,935,845,935,905,935,1060,930,1130,938,485,936,620,942,640,945,662,938,720,950,880,945,1020,950,960,955,1040,960,222,968,490,973,875,965,905,970,1050,965,1095,965,925,985,965,980,780,990,860,988,1075,990,1090,992,1115,997,1020,993,955,995,855,1012,880,1010,955,1015,1007,1015,840,1040,865,1050,885,1050,905,1055,1012,1042,1038,1040,1230,1035,923,1076,1235,1070,802,1095,855,1092,1092,1127];

const edgesA = [0.28,0.29,0.30,0.31,0.32,0.33,0.34,0.35,0.36,0.37,0.38,0.39,0.40,0.41,0.42,0.43,0.44];
const edgesB = [0.21,0.22,0.23,0.24,0.25,0.26,0.27,0.28,0.29,0.30,0.31,0.32,0.33,0.34,0.35,0.36,0.37,0.38,0.39,0.40,0.41,0.42,0.43,0.44,0.45,0.46,0.47,0.48,0.49,0.50];
const edgesC = [-0.25,-0.2,-0.15,-0.1,-0.05,0,0.05,0.1,0.15,0.2,0.25,0.3,0.35,0.4,0.45,0.5,0.55,0.6,0.65,0.7,0.75,0.8];
const edgesD = [-1.6,-1.4,-1.2,-1.0,-0.8,-0.6,-0.4,-0.2,0,0.2,0.4,0.6,0.8,1.0,1.2,1.4,1.6];
const edgesE = [-0.4,-0.3,-0.2,-0.1,0,0.1,0.2,0.3,0.4,0.5,0.6,0.7,0.8,0.9,1.0,1.1,1.2];
const edgesF = [-0.9,-0.8,-0.7,-0.6,-0.5,-0.4,-0.3,-0.2,-0.1,0,0.1,0.2,0.3,0.4,0.5,0.6,0.7,0.8,0.9,1.0,1.1,1.2,1.3,1.4,1.5,1.6];
const edgesG = [-2.2,-2,-1.8,-1.6,-1.4,-1.2,-1,-0.8,-0.6,-0.4,-0.2,0,0.2,0.4,0.6,0.8,1,1.2,1.4,1.6,1.8,2,2.2,2.4,2.6,2.8];
const edgesH = [0,0.05,0.1,0.15,0.2,0.25,0.3,0.35,0.4,0.45,0.5,0.55,0.6,0.65,0.7,0.75,0.8,0.85,0.9];
const edgesI = [-1.4,-1.3,-1.2,-1.1,-1,-0.9,-0.8,-0.7,-0.6,-0.5,-0.4,-0.3,-0.2,-0.1,0,0.1,0.2,0.3,0.4,0.5,0.6,0.7,0.8,0.9,1,1.1,1.2,1.3,1.4,1.5];

const ticksA = ["0.30","0.35","0.40"];
const ticksB = ["0.25","0.30","0.35","0.40","0.45","0.50"];
const ticksC = ["-0.2","0.0","0.2","0.4","0.6","0.8"];
const ticksD = ["-1.5","-1.0","-0.5","0.0","0.5","1.0","1.5"];
const ticksE = ["0.0","0.5","1.0"];
const ticksF = ["-0.5","0.0","0.5","1.0","1.5"];
const ticksG = ["-2","-1","0","1","2"];
const ticksH = ["0.0","0.2","0.4","0.6","0.8"];
const ticksI = ["-1.0","-0.5","0.0","0.5","1.0","1.5"];

const captions = [
 ["(a) Mixture, PC 1 vs ","mine"," PC 1"],
 ["(b) Mixture, PC 1 vs ","mine"," PC 3"],
 ["(c) Mixture, PC 3 vs ","mine"," PC 3"],
 ["(d) Mixture, PC 1 vs ","vitA"," PC 2"],
 ["(e) Mixture, PC 1 vs ","vitB"," PC 1"],
 ["(f) Mixture, PC 1 vs ","vitB"," PC 2"],
 ["(g) Mixture, PC 3 vs ","vitB"," PC 1"],
 ["(h) Mixture, PC 1 vs ","vitO"," PC 2"],
 ["(i) Mixture, PC 3 vs ","vitO"," PC 1"]
];

//============================== LAYOUT ===========================
const colLeft = [49, 603, 1155];
const rowTop = [14, 631, 1248];
const capLeft = [6, 558, 1111];
const capTop = [516, 1134, 1751];
const plotW = 355, plotH = 401, barGap = 32, barW = 30;
// reading range of the picture for each panel
const readX = [[142,1175],[180,1215],[208,1243],[142,1175],[180,1215],[208,1243],[142,1175],[180,1215],[208,1243]];
const readY = [[35,1162],[35,1162],[35,1162],[30,1160],[30,1160],[30,1160],[35,1152],[35,1152],[35,1152]];

//============================== COLOURS ===========================
const heatStops = [[0,238,38,34],[15,240,70,30],[30,245,110,30],[45,247,150,30],[58,248,180,32],[70,245,215,35],[80,243,232,40],[88,243,238,90],[95,248,244,170],[100,253,250,232]];
function heat(p) {
    for (let i = 1; i < heatStops.length; i++) {
        const a = heatStops[i-1], b = heatStops[i];
        if (p <= b[0]) {
            const t = (p - a[0]) / (b[0] - a[0]);
            return `rgb(${Math.round(a[1]+t*(b[1]-a[1]))},${Math.round(a[2]+t*(b[2]-a[2]))},${Math.round(a[3]+t*(b[3]-a[3]))})`;
        }
    }
    return "rgb(253,250,232)";
}

const framePlugin = {
    id: "frame",
    afterDraw(chart) {
        const a = chart.chartArea, c = chart.ctx;
        c.save();
        c.strokeStyle = "#141414";
        c.lineWidth = 2;
        c.strokeRect(a.left, a.top, a.width, a.height);
        c.restore();
    }
};

function addCanvas(left, top, w, h) {
    const cv = document.createElement("canvas");
    cv.width = w; cv.height = h;
    cv.style.left = left + "px";
    cv.style.top = top + "px";
    cv.style.width = w + "px";
    cv.style.height = h + "px";
    document.body.appendChild(cv);
    return cv;
}

//============================== PANEL ===========================
function drawPanel(i, contours, points) {
    const left = colLeft[i % 3], top = rowTop[Math.floor(i / 3)];
    const pad = 2;
    const cv = addCanvas(left - pad, top - pad, plotW + 2*pad, plotH + 2*pad);
    const sets = contours.map((c, k) => {
        const data = [];
        for (let j = 1; j < c.length; j += 2) data.push({x: c[j], y: c[j+1]});
        return {
            data, showLine: true, fill: "shape", backgroundColor: heat(c[0]),
            borderWidth: 0, pointRadius: 0, tension: 0.4, order: contours.length - k + 1, clip: 0
        };
    });
    const pts = [];
    for (let j = 0; j < points.length; j += 2) pts.push({x: points[j], y: points[j+1]});
    sets.push({data: pts, pointRadius: 3.4, pointBorderWidth: 0, backgroundColor: "rgba(46,42,24,0.8)", showLine: false, order: -1, clip: 0});
    new Chart(cv.getContext("2d"), {
        type: "scatter",
        data: {datasets: sets},
        options: {
            responsive: false, animation: false, events: [],
            layout: {padding: pad, autoPadding: false},
            plugins: {legend: {display: false}, tooltip: {enabled: false}, filler: {propagate: false}},
            elements: {line: {capBezierPoints: false}},
            scales: {
                x: {display: false, min: readX[i][0], max: readX[i][1]},
                y: {display: false, reverse: true, min: readY[i][0], max: readY[i][1]}
            }
        },
        plugins: [framePlugin]
    });
}

//============================== COLOUR BAR ===========================
function drawBar(i, edges, ticks) {
    const left = colLeft[i % 3] + plotW + barGap, top = rowTop[Math.floor(i / 3)];
    const padY = 12, axisW = 60;
    const cv = addCanvas(left - 2, top - padY, barW + axisW + 2, plotH + 2*padY);
    const lo = edges[0], hi = edges[edges.length - 1];
    const sets = [];
    for (let k = 0; k < edges.length - 1; k++) {
        sets.push({
            data: [[edges[k], edges[k+1]]],
            backgroundColor: heat(100 * k / (edges.length - 2)),
            borderColor: "rgba(110,90,30,0.65)",
            borderWidth: {top: k < edges.length - 2 ? 1 : 0, left: 0, right: 0, bottom: 0},
            borderSkipped: false,
            barPercentage: 1, categoryPercentage: 1, grouped: false
        });
    }
    new Chart(cv.getContext("2d"), {
        type: "bar",
        data: {labels: [""], datasets: sets},
        options: {
            responsive: false, animation: false, events: [],
            layout: {padding: {top: padY, bottom: padY, left: 2, right: 0}, autoPadding: false},
            plugins: {legend: {display: false}, tooltip: {enabled: false}},
            scales: {
                x: {display: false},
                y: {
                    position: "right", min: lo, max: hi,
                    afterFit(s) { s.width = axisW; },
                    afterBuildTicks(s) { s.ticks = ticks.map(t => ({value: Number(t), label: t})); },
                    border: {display: false},
                    grid: {drawOnChartArea: false, lineWidth: 0, tickLength: 9, tickColor: "#111", tickWidth: 2},
                    ticks: {
                        autoSkip: false, padding: 6, color: "#222",
                        font: {family: "Liberation Sans", size: 11.5, weight: "bold"},
                        callback(v) { return ticks.find(t => Number(t) === v).replace("-", "\u2212"); }
                    }
                }
            }
        },
        plugins: [framePlugin]
    });
}

const allContours = [contoursA, contoursB, contoursC, contoursD, contoursE, contoursF, contoursG, contoursH, contoursI];
const allPoints = [pointsA, pointsB, pointsC, pointsD, pointsE, pointsF, pointsG, pointsH, pointsI];
const allEdges = [edgesA, edgesB, edgesC, edgesD, edgesE, edgesF, edgesG, edgesH, edgesI];
const allTicks = [ticksA, ticksB, ticksC, ticksD, ticksE, ticksF, ticksG, ticksH, ticksI];

allContours.forEach((c, i) => {
    drawPanel(i, c, allPoints[i]);
    drawBar(i, allEdges[i], allTicks[i]);
    const d = document.createElement("div");
    d.className = "cap";
    d.style.left = capLeft[i % 3] + "px";
    d.style.top = capTop[Math.floor(i / 3)] + "px";
    d.append(captions[i][0]);
    const tt = document.createElement("tt");
    tt.textContent = captions[i][1];
    d.append(tt, captions[i][2]);
    document.body.appendChild(d);
});
</script>
</body>
</html>
